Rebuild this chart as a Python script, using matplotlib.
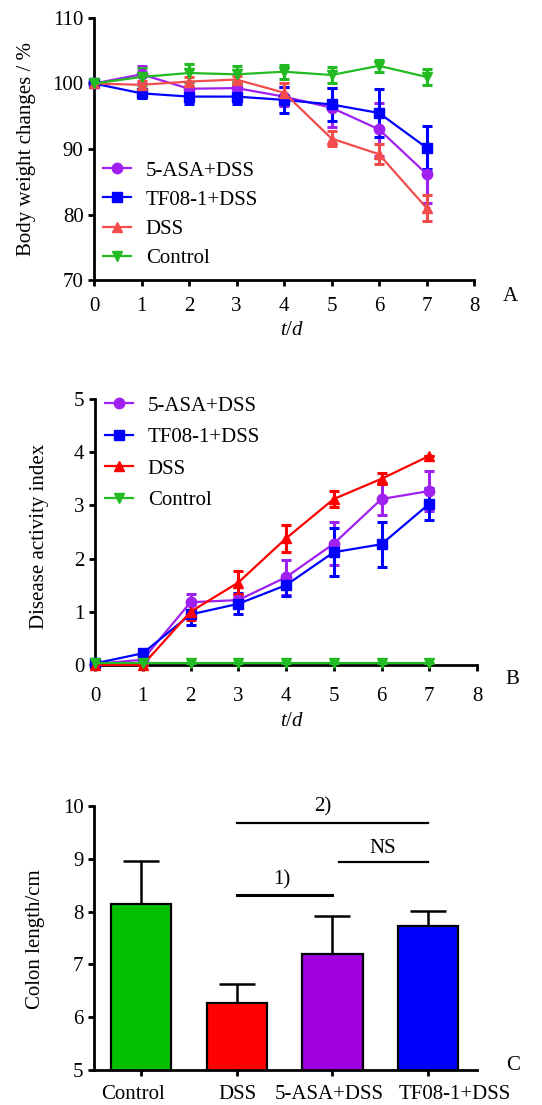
import matplotlib
matplotlib.use("Agg")
import matplotlib.pyplot as plt
import matplotlib.transforms as mtrans
import numpy as np

plt.rcParams['font.family'] = ['Liberation Serif', 'DejaVu Serif']
plt.rcParams['mathtext.fontset'] = 'custom'
plt.rcParams['mathtext.it'] = 'Liberation Serif:italic'
plt.rcParams['mathtext.rm'] = 'Liberation Serif'

days = [0, 1, 2, 3, 4, 5, 6, 7]
series_names = ["5-ASA+DSS", "TF08-1+DSS", "DSS", "Control"]

# Panel A: body weight changes (%)
bw_asa = [100, 101.4, 99.2, 99.3, 98.0, 96.3, 93.0, 86.2]
bw_asa_err = [0.3, 1.3, 1.0, 1.0, 1.5, 3.0, 4.0, 4.5]
bw_tf = [100, 98.5, 98.0, 98.0, 97.5, 96.8, 95.5, 90.2]
bw_tf_err = [0.3, 0.7, 1.2, 1.2, 2.0, 2.5, 3.7, 3.3]
bw_dss = [100, 99.8, 100.3, 100.6, 98.6, 91.6, 89.2, 81.0]
bw_dss_err = [0.3, 0.6, 0.7, 0.5, 1.5, 1.2, 1.5, 2.0]
bw_ctrl = [100, 101.0, 101.6, 101.4, 101.8, 101.3, 102.7, 101.0]
bw_ctrl_err = [0.3, 1.3, 1.4, 1.2, 1.1, 1.2, 0.9, 1.2]

# Panel B: disease activity index
dai_asa = [0.02, 0.1, 1.18, 1.22, 1.65, 2.28, 3.12, 3.27]
dai_asa_err = [0.0, 0.0, 0.15, 0.1, 0.33, 0.4, 0.3, 0.37]
dai_tf = [0.03, 0.22, 0.95, 1.15, 1.5, 2.12, 2.27, 3.03]
dai_tf_err = [0.0, 0.05, 0.2, 0.2, 0.2, 0.45, 0.42, 0.3]
dai_dss = [0.0, 0.0, 1.0, 1.55, 2.38, 3.12, 3.5, 3.93]
dai_dss_err = [0.0, 0.0, 0.15, 0.22, 0.25, 0.15, 0.1, 0.0]
dai_ctrl = [0.03, 0.03, 0.03, 0.03, 0.03, 0.03, 0.03, 0.03]
dai_ctrl_err = [0, 0, 0, 0, 0, 0, 0, 0]

# Panel C: colon length
groups = ["Control", "DSS", "5-ASA+DSS", "TF08-1+DSS"]
colon_len = [8.15, 6.27, 7.2, 7.72]
colon_err = [0.8, 0.36, 0.72, 0.3]

FS = 15
W, H = 542, 1105
fig = plt.figure(figsize=(W / 100, H / 100), dpi=100)

def style_axes(ax, xpad):
    for s in ['top', 'right']:
        ax.spines[s].set_visible(False)
    for s in ['left', 'bottom']:
        ax.spines[s].set_linewidth(2.0)
    ax.tick_params(direction='out', length=4.5, width=2.0, labelsize=FS)
    ax.tick_params(axis='y', pad=3)
    ax.tick_params(axis='x', pad=xpad)

def line_panel(ax, data, colors, markers):
    for name, (y, e), c, m in zip(series_names, data, colors, markers):
        ax.errorbar(days, y, yerr=e, color=c, marker=m, markersize=7.5,
                    linewidth=1.6, elinewidth=2.2, capsize=3.5, capthick=2.2,
                    label=name, clip_on=False, zorder=3)

def add_legend(ax, top_px, left_px, spacing):
    h, l = ax.get_legend_handles_labels()
    hh = [x[0] for x in h]
    ax.legend(hh, l, loc='upper left', bbox_to_anchor=(left_px / W, 1 - top_px / H),
              bbox_transform=fig.transFigure, frameon=False, fontsize=FS,
              handlelength=1.35, handletextpad=0.7, labelspacing=spacing,
              borderpad=0, borderaxespad=0)

# ---------- Panel A ----------
axA = fig.add_axes([94 / W, 1 - 280 / H, 380 / W, 262 / H])
colorsA = ['#a020f0', '#0000ff', '#f24c4c', '#22bb22']
markers = ['o', 's', '^', 'v']
line_panel(axA, [(bw_asa, bw_asa_err), (bw_tf, bw_tf_err),
                 (bw_dss, bw_dss_err), (bw_ctrl, bw_ctrl_err)], colorsA, markers)
axA.set_xlim(0, 8)
axA.set_ylim(70, 110)
axA.set_xticks(range(0, 9))
axA.set_yticks([70, 80, 90, 100, 110])
style_axes(axA, 7.5)
axA.set_ylabel("Body weight changes / %", fontsize=FS)
axA.yaxis.set_label_coords(-0.152, 0.5)
axA.set_xlabel(r"$t$/$d$", fontsize=FS)
axA.xaxis.set_label_coords(0.52, -0.158)
add_legend(axA, 161, 103, 0.46)
fig.text(510 / W, 1 - 297 / H, "A", fontsize=FS, ha='center', va='center')

# ---------- Panel B ----------
axB = fig.add_axes([95 / W, 1 - 665 / H, 382 / W, 266 / H])
colorsB = ['#a020f0', '#0000ff', '#ff0000', '#22bb22']
line_panel(axB, [(dai_asa, dai_asa_err), (dai_tf, dai_tf_err),
                 (dai_dss, dai_dss_err), (dai_ctrl, dai_ctrl_err)], colorsB, markers)
axB.set_xlim(0, 8)
axB.set_ylim(0, 5)
axB.set_xticks(range(0, 9))
axB.set_yticks([0, 1, 2, 3, 4, 5])
style_axes(axB, 11)
axB.set_ylabel("Disease activity index", fontsize=FS)
axB.yaxis.set_label_coords(-0.12, 0.485)
axB.set_xlabel(r"$t$/$d$", fontsize=FS)
axB.xaxis.set_label_coords(0.516, -0.176)
add_legend(axB, 396, 105, 0.57)
fig.text(512 / W, 1 - 680 / H, "B", fontsize=FS, ha='center', va='center')

# ---------- Panel C ----------
axC = fig.add_axes([94 / W, 1 - 1070 / H, 383 / W, 264 / H])
bar_colors = ['#00c000', '#ff0000', '#a000e0', '#0000ff']
xpos = np.arange(len(groups))
axC.bar(xpos, colon_len, width=0.63, color=bar_colors, edgecolor='black',
        linewidth=1.6, zorder=2)
axC.errorbar(xpos, colon_len, yerr=[np.zeros(4), colon_err], fmt='none',
             ecolor='black', elinewidth=1.8, capsize=13, capthick=1.8, zorder=1)
axC.set_xlim(-0.49, 3.51)
axC.set_ylim(5, 10)
axC.set_xticks(xpos)
axC.set_xticklabels(groups)
axC.set_yticks([5, 6, 7, 8, 9, 10])
style_axes(axC, 6.5)
# the original figure nudges its category labels sideways
label_shift_px = [-8, 1, -3, 27]
for lab, dx in zip(axC.get_xticklabels(), label_shift_px):
    lab.set_fontsize(15)
    lab.set_transform(lab.get_transform() +
                      mtrans.ScaledTranslation(dx / 100, 0, fig.dpi_scale_trans))
axC.set_ylabel("Colon length/cm", fontsize=FS)
axC.yaxis.set_label_coords(-0.128, 0.496)
# significance lines
axC.plot([1, 3], [9.68, 9.68], color='black', lw=1.6, clip_on=False)
axC.text(1.9, 9.98, "2)", fontsize=FS, ha='center', va='center')
axC.plot([1, 2], [8.31, 8.31], color='black', lw=2.2, clip_on=False)
axC.text(1.47, 8.6, "1)", fontsize=FS, ha='center', va='center')
axC.plot([2.07, 3], [8.94, 8.94], color='black', lw=1.6, clip_on=False)
axC.text(2.52, 9.2, "NS", fontsize=FS, ha='center', va='center')
fig.text(513 / W, 1 - 1065 / H, "C", fontsize=FS, ha='center', va='center')

fig.savefig("out.png", dpi=100)
